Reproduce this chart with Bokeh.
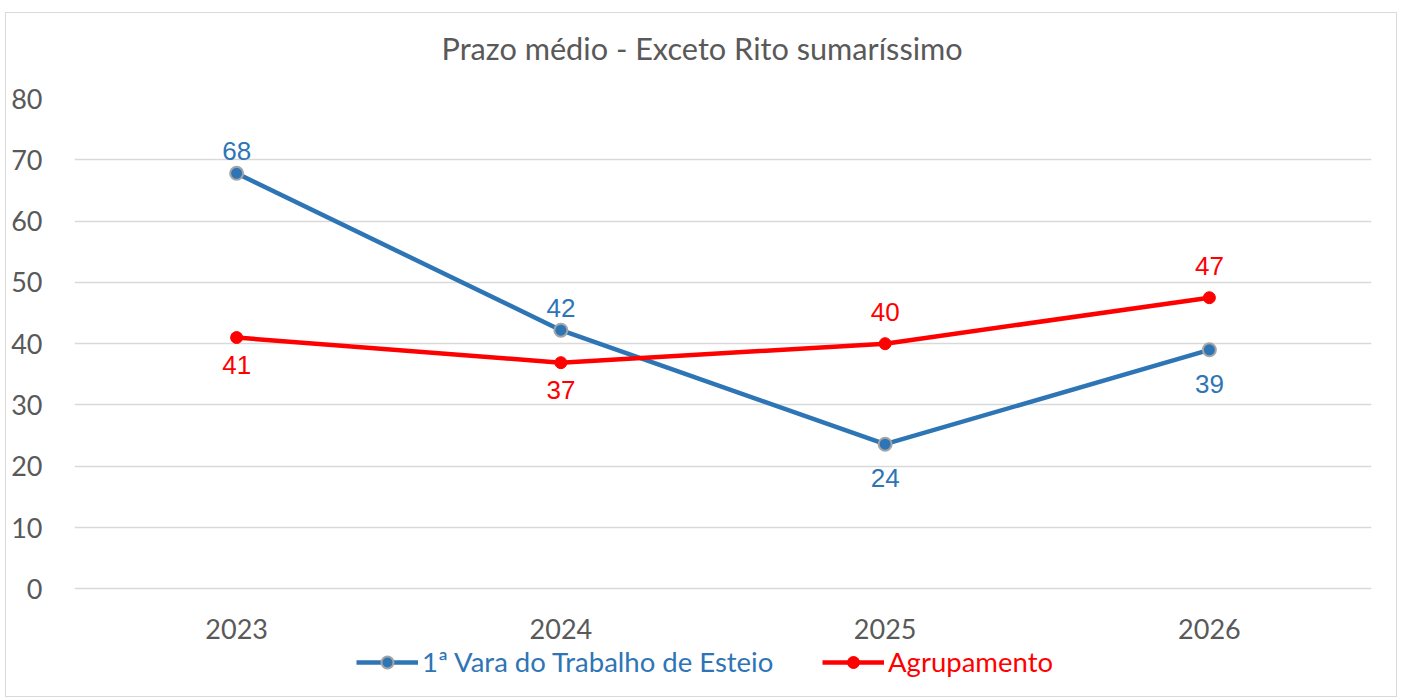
from bokeh.plotting import figure
from bokeh.models import FactorRange, Range1d, Legend, LegendItem, ColumnDataSource, FixedTicker, Title
from bokeh.core.properties import value
from bokeh.embed import file_html
from bokeh.resources import INLINE

years = ["2023", "2024", "2025", "2026"]
vara = [67.8, 42.2, 23.6, 39.0]
vara_labels = ["68", "42", "24", "39"]
vara_pos = ["above", "above", "below", "below"]
agrup = [41.0, 36.9, 40.0, 47.5]
agrup_labels = ["41", "37", "40", "47"]
agrup_pos = ["below", "below", "above", "above"]
y_ticks = [0, 10, 20, 30, 40, 50, 60, 70, 80]

BLUE = "#2e75b6"
RED = "#ff0000"
GREY = "#595959"
FONT = "Lato"

# frame extends below 0 so that the category labels and legend sit inside it
p = figure(width=1392, height=685, x_range=FactorRange(*years, range_padding=0),
           y_range=Range1d(-17.4, 80), output_backend="svg", toolbar_location=None,
           min_border_left=68, min_border_right=27, min_border_top=85, min_border_bottom=3)
p.styles = {"border": "1.5px solid #d9d9d9", "box-sizing": "border-box",
            "margin": "12px 0 0 5px"}
p.title = Title(text="Prazo médio - Exceto Rito sumaríssimo\n", align="left", vertical_align="bottom",
                text_font=FONT, text_font_size="30.7px", text_font_style="normal",
                text_line_height=0.86, text_color=GREY, standoff=0, offset=367)
p.outline_line_color = None
p.xgrid.grid_line_color = None
p.xaxis.visible = False
p.ygrid.grid_line_color = "#d9d9d9"
p.ygrid.grid_line_width = 1.5
p.yaxis.ticker = FixedTicker(ticks=y_ticks)
ax = p.yaxis[0]
ax.axis_line_color = None
ax.major_tick_line_color = None
ax.minor_tick_line_color = None
ax.major_label_text_font = FONT
ax.major_label_text_font_size = "27px"
ax.major_label_text_color = GREY
ax.major_label_standoff = 26

cat_src = ColumnDataSource(dict(x=years, y=[0] * len(years), t=years))
p.text("x", "y", text="t", source=cat_src, y_offset=40, text_align="center", text_baseline="middle",
       text_font=value(FONT), text_font_size="27px", text_color=GREY)

src_b = ColumnDataSource(dict(x=years, y=vara, t=vara_labels,
                              off=[-22 if s == "above" else 34 for s in vara_pos]))
src_r = ColumnDataSource(dict(x=years, y=agrup, t=agrup_labels,
                              off=[-32 if s == "above" else 27 for s in agrup_pos]))

lb = p.line("x", "y", source=src_b, line_color=BLUE, line_width=4.5)
mb = p.scatter("x", "y", source=src_b, size=13, fill_color=BLUE, line_color="#a5a5a5", line_width=2)
lr = p.line("x", "y", source=src_r, line_color=RED, line_width=4.5)
mr = p.scatter("x", "y", source=src_r, size=12, fill_color=RED, line_color=RED, line_width=1)

p.text("x", "y", text="t", y_offset="off", source=src_b, text_align="center", text_baseline="middle",
       text_font=value("Liberation Sans"), text_font_size="26px", text_color=BLUE)
p.text("x", "y", text="t", y_offset="off", source=src_r, text_align="center", text_baseline="middle",
       text_font=value("Liberation Sans"), text_font_size="26px", text_color=RED)

def mk_legend(label, rends, color, xloc):
    lg = Legend(items=[LegendItem(label=label, renderers=rends)], location=(xloc, 17),
                orientation="horizontal", padding=0, margin=0, spacing=0,
                glyph_width=62, glyph_height=30, label_height=30, label_standoff=4,
                label_text_font=FONT, label_text_font_size="27.5px", label_text_color=color,
                border_line_color=None, background_fill_alpha=0)
    p.add_layout(lg, "center")

mk_legend("1ª Vara do Trabalho de Esteio", [lb, mb], BLUE, 282)
mk_legend("Agrupamento", [lr, mr], RED, 748)

open("out.html", "w").write(file_html(p, INLINE))
